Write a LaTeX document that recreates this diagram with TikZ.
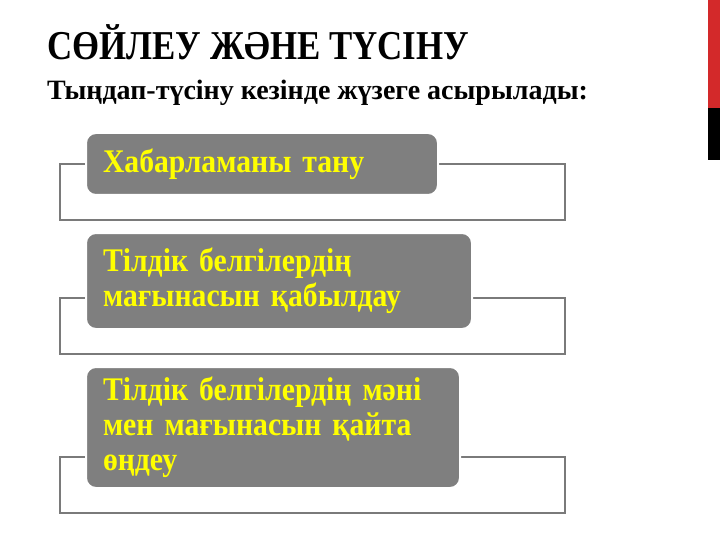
\documentclass[tikz,border=0pt]{standalone}
\usepackage{fontspec}
\setmainfont{Liberation Serif}
\newfontfamily\stepfont[FakeStretch=0.9]{Liberation Serif}
\usetikzlibrary{positioning}
\definecolor{boxGray}{HTML}{7F7F7F}
\definecolor{lineGray}{HTML}{7A7A7A}
\definecolor{textYellow}{HTML}{FFFF00}
\definecolor{barRed}{HTML}{D3292A}

\begin{document}
\begin{tikzpicture}[x=1pt, y=-1pt,
    frame/.style={draw=lineGray, line width=2pt, anchor=north west, inner sep=0pt, minimum width=505pt, minimum height=56pt},
    stepbox/.style={fill=boxGray, draw=white, line width=2pt, rounded corners=10pt, anchor=north west, inner xsep=17pt, inner ysep=0pt, align=left, text=textYellow, font=\stepfont\fontsize{33}{35}\selectfont\bfseries}]
        \useasboundingbox (0,0) rectangle (720,540);

        % Side bar
        \fill[barRed] (708,0) rectangle (720,108);
        \fill[black] (708,108) rectangle (720,160);

        % Headings
        \node[anchor=base west, inner sep=0pt, xscale=0.85, font=\fontsize{41}{41}\selectfont\bfseries] (title) at (47,60) {СӨЙЛЕУ ЖӘНЕ ТҮСІНУ};
        \node[anchor=base west, inner sep=0pt, font=\fontsize{28}{28}\selectfont\bfseries] (subtitle) at (47,100) {Тыңдап-түсіну кезінде жүзеге асырылады:};

        % Frames behind the boxes
        \node[frame] (frameA) at (59,163) {};
        \node[frame] (frameB) at (59,297) {};
        \node[frame] (frameC) at (59,456) {};

        % Steps
        \node[stepbox, minimum width=352pt, minimum height=62pt, text width=318pt] (recog) at (85,132) {Хабарламаны тану};
        \node[stepbox, minimum width=386pt, minimum height=96pt, text width=352pt] (accept) at (85,232) {Тілдік белгілердің\\мағынасын қабылдау};
        \node[stepbox, minimum width=374pt, minimum height=121pt, text width=340pt] (process) at (85,366) {Тілдік белгілердің мәні\\мен мағынасын қайта\\өңдеу};
    \end{tikzpicture}
\end{document}
